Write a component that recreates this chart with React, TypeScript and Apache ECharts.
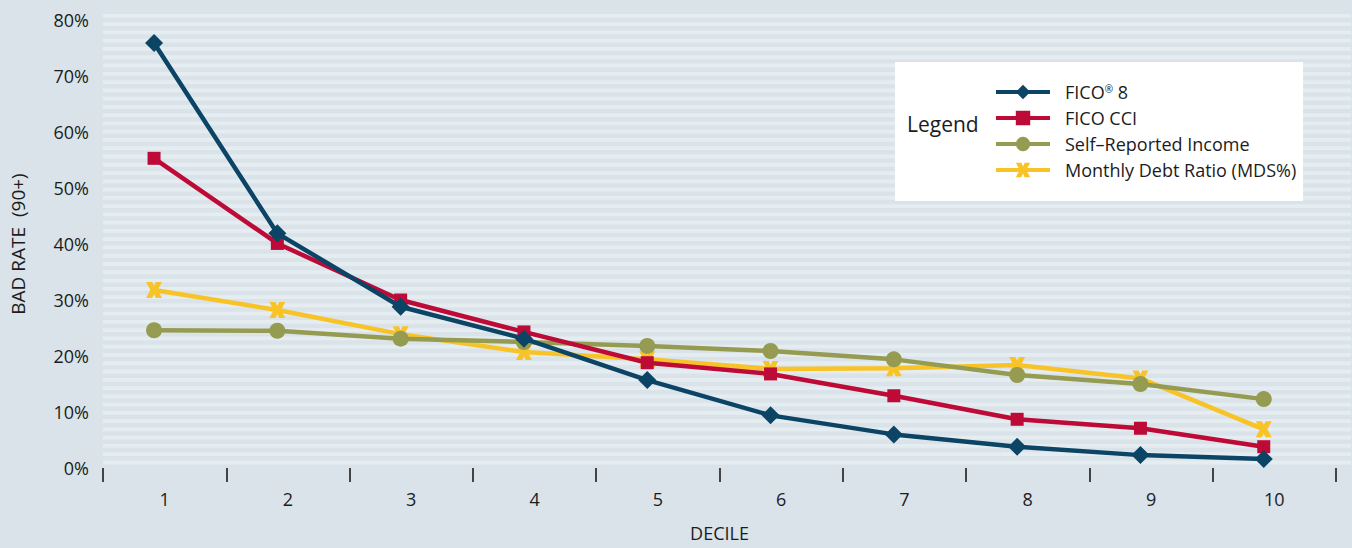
import { useEffect, useRef } from 'react';
import * as echarts from 'echarts';

// Deciles on the x axis
const deciles = ['1', '2', '3', '4', '5', '6', '7', '8', '9', '10'];

// Bad rate (90+) per decile, in percent
const fico8 = [75.9, 41.9, 28.8, 23.1, 15.7, 9.4, 6.0, 3.8, 2.3, 1.6];
const ficoCci = [55.3, 40.1, 30.0, 24.3, 18.8, 16.8, 12.9, 8.7, 7.1, 3.8];
const selfReportedIncome = [24.6, 24.5, 23.1, 22.5, 21.8, 20.9, 19.4, 16.6, 15.0, 12.3];
const monthlyDebtRatio = [31.8, 28.2, 23.9, 20.7, 19.4, 17.7, 17.8, 18.4, 16.0, 6.9];

const seriesNames = ['FICO® 8', 'FICO CCI', 'Self–Reported Income', 'Monthly Debt Ratio (MDS%)'];
const seriesColors = ['#0c4465', '#bd0a37', '#959b50', '#f8c326'];

const FONT = '"Open Sans", "Noto Sans", sans-serif';
const TEXT = '#1c1c1c';

// bold "x" marker
const X_MARK = 'path://M0,0 L3.9,0 L5,2.5 L6.1,0 L10,0 L7.3,5 L10,10 L6.1,10 L5,7.5 L3.9,10 L0,10 L2.7,5 Z';

const W = 1352;
const H = 548;

function stripeElements() {
  const els: any[] = [];
  const top = 14;
  const step = 8.27;
  for (let k = 0; k <= 54; k++) {
    els.push({
      type: 'rect',
      silent: true,
      z: 0,
      shape: { x: 103, y: top + k * step, width: 1248, height: 3.8 },
      style: { fill: '#e6edf1' },
    });
  }
  return els;
}

export default function App() {
  const ref = useRef<HTMLDivElement>(null);

  useEffect(() => {
    if (!ref.current) return;
    const chart = echarts.init(ref.current, undefined, { renderer: 'svg' });

    const pairs = (vals: number[]) => vals.map((v, i) => [i + 1, v]);
    const datasets = [fico8, ficoCci, selfReportedIncome, monthlyDebtRatio];
    const symbols = ['diamond', 'rect', 'circle', X_MARK];
    const sizes = [18, 13, 16, 16];

    chart.setOption({
      animation: false,
      backgroundColor: '#d9e3e9',
      textStyle: { fontFamily: FONT, color: TEXT },
      grid: { left: 103, right: 16, top: 20, bottom: 80, outerBoundsMode: 'none', containLabel: false },
      xAxis: [
        {
          type: 'category',
          data: deciles,
          boundaryGap: true,
          axisLine: { show: false },
          axisTick: { show: true, length: 14, lineStyle: { color: '#1c1c1c', width: 1.6 } },
          axisLabel: { color: TEXT, fontSize: 18, fontFamily: FONT, margin: 22 },
          splitLine: { show: false },
          name: 'DECILE',
          nameLocation: 'middle',
          nameGap: 56,
          nameTextStyle: { color: TEXT, fontSize: 18, fontFamily: FONT },
        },
        {
          type: 'value',
          min: 0.586,
          max: 10.586,
          show: false,
          splitLine: { show: false },
        },
      ],
      yAxis: {
        type: 'value',
        min: 0,
        max: 80,
        interval: 10,
        axisLine: { show: false },
        axisTick: { show: false },
        splitLine: { show: false },
        axisLabel: { formatter: '{value}%', color: TEXT, fontSize: 18, fontFamily: FONT, margin: 14 },
        name: 'BAD RATE  (90+)',
        nameLocation: 'middle',
        nameGap: 76,
        nameTextStyle: { color: TEXT, fontSize: 19, fontFamily: FONT },
      },
      legend: {
        orient: 'vertical',
        left: 994,
        top: 83,
        padding: 0,
        itemWidth: 54,
        itemHeight: 18,
        itemGap: 8,
        data: seriesNames,
        lineStyle: { width: 4 },
        formatter: (name: string) => (name === 'FICO® 8' ? 'FICO{s|®} 8' : name),
        textStyle: {
          color: TEXT,
          fontSize: 18,
          fontFamily: FONT,
          padding: [0, 0, 0, 10],
          rich: {
            s: { fontSize: 10, fontFamily: FONT, color: TEXT, padding: [0, 0, 7, 0] },
          },
        },
      },
      graphic: [
        ...stripeElements(),
        {
          type: 'rect',
          silent: true,
          z: 3,
          shape: { x: 895, y: 62, width: 408, height: 139 },
          style: { fill: '#ffffff' },
        },
        {
          type: 'text',
          silent: true,
          z: 5,
          x: 907,
          y: 124,
          style: {
            text: 'Legend',
            fontSize: 21,
            fontFamily: FONT,
            fill: TEXT,
            verticalAlign: 'middle',
          },
        },
      ],
      series: datasets.map((vals, i) => ({
        name: seriesNames[i],
        type: 'line',
        xAxisIndex: 1,
        data: pairs(vals),
        symbol: symbols[i],
        symbolSize: sizes[i],
        showAllSymbol: true,
        lineStyle: { color: seriesColors[i], width: 4.5 },
        itemStyle: { color: seriesColors[i], borderWidth: 0 },
        z: 2 + (datasets.length - i),
      })),
    });

    return () => chart.dispose();
  }, []);

  return (
    <div style={{ position: 'fixed', left: 0, top: 0, width: W, height: H }}>
      <div ref={ref} style={{ width: W, height: H }} />
    </div>
  );
}
